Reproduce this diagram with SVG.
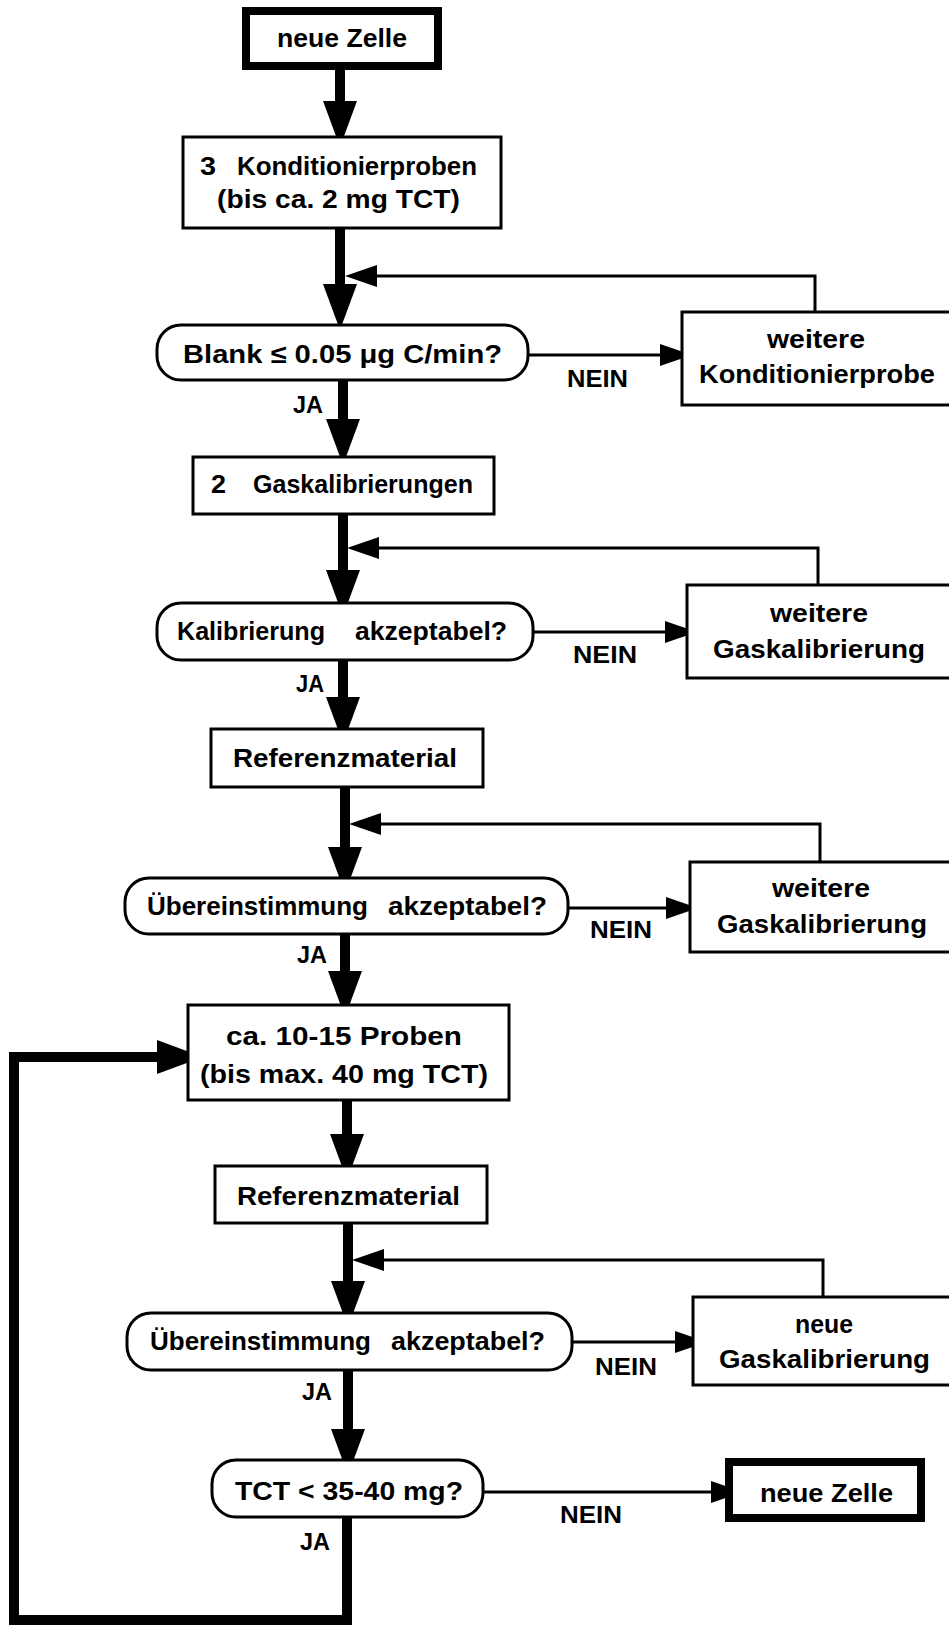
<svg xmlns="http://www.w3.org/2000/svg" width="949" height="1625" viewBox="0 0 949 1625">
<defs>
<style>
.box{fill:#fff;stroke:#000;stroke-width:3}
.term{fill:#fff;stroke:#000;stroke-width:8}
.t{font-family:"Liberation Sans",Arial,sans-serif;font-size:26px;font-weight:bold;fill:#000}
.lbl{font-family:"Liberation Sans",Arial,sans-serif;font-size:24px;font-weight:bold;fill:#000}
.main{fill:none;stroke:#000;stroke-width:10}
.thin{fill:none;stroke:#000;stroke-width:3}
</style>
<marker id="big" viewBox="0 0 46 34" refX="0" refY="17" markerWidth="46" markerHeight="34" markerUnits="userSpaceOnUse" orient="auto">
<path d="M0,0 L46,17 L0,34 Z" fill="#000"/>
</marker>
<marker id="small" viewBox="0 0 32 22" refX="0" refY="11" markerWidth="32" markerHeight="22" markerUnits="userSpaceOnUse" orient="auto">
<path d="M0,0 L32,11 L0,22 Z" fill="#000"/>
</marker>
</defs>
<rect width="949" height="1625" fill="#fff"/>

<g id="connectors">
<line class="main" x1="340" y1="70" x2="340" y2="101" marker-end="url(#big)"/>
<line class="main" x1="340" y1="228" x2="340" y2="284" marker-end="url(#big)"/>
<line class="main" x1="343" y1="380" x2="343" y2="419" marker-end="url(#big)"/>
<line class="main" x1="343" y1="514" x2="343" y2="570" marker-end="url(#big)"/>
<line class="main" x1="343" y1="660" x2="343" y2="697" marker-end="url(#big)"/>
<line class="main" x1="345" y1="787" x2="345" y2="847" marker-end="url(#big)"/>
<line class="main" x1="345" y1="934" x2="345" y2="971" marker-end="url(#big)"/>
<line class="main" x1="347" y1="1100" x2="347" y2="1134" marker-end="url(#big)"/>
<line class="main" x1="348" y1="1223" x2="348" y2="1281" marker-end="url(#big)"/>
<line class="main" x1="348" y1="1370" x2="348" y2="1429" marker-end="url(#big)"/>
<polyline class="main" points="347,1517 347,1620 14,1620 14,1057 157,1057" marker-end="url(#big)"/>

<polyline class="thin" points="815,312 815,276 377,276" marker-end="url(#small)"/>
<polyline class="thin" points="818,585 818,548 379,548" marker-end="url(#small)"/>
<polyline class="thin" points="820,862 820,824 381,824" marker-end="url(#small)"/>
<polyline class="thin" points="823,1297 823,1260 384,1260" marker-end="url(#small)"/>

<line class="thin" x1="528" y1="355" x2="660" y2="355" marker-end="url(#small)"/>
<line class="thin" x1="533" y1="632" x2="665" y2="632" marker-end="url(#small)"/>
<line class="thin" x1="568" y1="908" x2="666" y2="908" marker-end="url(#small)"/>
<line class="thin" x1="572" y1="1342" x2="675" y2="1342" marker-end="url(#small)"/>
<line class="thin" x1="483" y1="1492" x2="711" y2="1492" marker-end="url(#small)"/>

<text class="lbl" x="293" y="413" textLength="30" lengthAdjust="spacingAndGlyphs">JA</text>
<text class="lbl" x="567" y="387" textLength="61" lengthAdjust="spacingAndGlyphs">NEIN</text>
<text class="lbl" x="296" y="692" textLength="28" lengthAdjust="spacingAndGlyphs">JA</text>
<text class="lbl" x="573" y="663" textLength="64" lengthAdjust="spacingAndGlyphs">NEIN</text>
<text class="lbl" x="297" y="963" textLength="30" lengthAdjust="spacingAndGlyphs">JA</text>
<text class="lbl" x="590" y="938" textLength="62" lengthAdjust="spacingAndGlyphs">NEIN</text>
<text class="lbl" x="302" y="1400" textLength="30" lengthAdjust="spacingAndGlyphs">JA</text>
<text class="lbl" x="595" y="1375" textLength="62" lengthAdjust="spacingAndGlyphs">NEIN</text>
<text class="lbl" x="560" y="1523" textLength="62" lengthAdjust="spacingAndGlyphs">NEIN</text>
<text class="lbl" x="300" y="1550" textLength="30" lengthAdjust="spacingAndGlyphs">JA</text>
</g>

<g id="start">
<rect class="term" x="246" y="11" width="192" height="55"/>
<text class="t" x="277" y="47" textLength="130" lengthAdjust="spacingAndGlyphs" style="font-size:25px">neue Zelle</text>
</g>

<g id="konditionierproben">
<rect class="box" x="183" y="137" width="318" height="91"/>
<text class="t" x="200" y="175" textLength="16" lengthAdjust="spacingAndGlyphs">3</text>
<text class="t" x="237" y="175" textLength="240" lengthAdjust="spacingAndGlyphs">Konditionierproben</text>
<text class="t" x="217" y="208" textLength="243" lengthAdjust="spacingAndGlyphs">(bis ca. 2 mg TCT)</text>
</g>

<g id="blank">
<rect class="box" x="157" y="325" width="371" height="55" rx="24"/>
<text class="t" x="183" y="363" textLength="319" lengthAdjust="spacingAndGlyphs">Blank ≤ 0.05 μg C/min?</text>
</g>

<g id="weitere-konditionierprobe">
<rect class="box" x="682" y="312" width="300" height="93"/>
<text class="t" x="767" y="348" textLength="98" lengthAdjust="spacingAndGlyphs">weitere</text>
<text class="t" x="699" y="383" textLength="236" lengthAdjust="spacingAndGlyphs">Konditionierprobe</text>
</g>

<g id="gaskalibrierungen">
<rect class="box" x="193" y="457" width="301" height="57"/>
<text class="t" x="211" y="493" textLength="15" lengthAdjust="spacingAndGlyphs">2</text>
<text class="t" x="253" y="493" textLength="220" lengthAdjust="spacingAndGlyphs">Gaskalibrierungen</text>
</g>

<g id="kalibrierung-akzeptabel">
<rect class="box" x="157" y="603" width="376" height="57" rx="24"/>
<text class="t" x="177" y="640" textLength="148" lengthAdjust="spacingAndGlyphs">Kalibrierung</text>
<text class="t" x="355" y="640" textLength="152" lengthAdjust="spacingAndGlyphs">akzeptabel?</text>
</g>

<g id="weitere-gaskalibrierung-1">
<rect class="box" x="687" y="585" width="300" height="93"/>
<text class="t" x="770" y="622" textLength="98" lengthAdjust="spacingAndGlyphs">weitere</text>
<text class="t" x="713" y="658" textLength="212" lengthAdjust="spacingAndGlyphs">Gaskalibrierung</text>
</g>

<g id="referenzmaterial-1">
<rect class="box" x="211" y="729" width="272" height="58"/>
<text class="t" x="233" y="767" textLength="224" lengthAdjust="spacingAndGlyphs">Referenzmaterial</text>
</g>

<g id="uebereinstimmung-1">
<rect class="box" x="125" y="878" width="443" height="56" rx="24"/>
<text class="t" x="147" y="915" textLength="221" lengthAdjust="spacingAndGlyphs">Übereinstimmung</text>
<text class="t" x="388" y="915" textLength="159" lengthAdjust="spacingAndGlyphs">akzeptabel?</text>
</g>

<g id="weitere-gaskalibrierung-2">
<rect class="box" x="690" y="862" width="300" height="90"/>
<text class="t" x="772" y="897" textLength="98" lengthAdjust="spacingAndGlyphs">weitere</text>
<text class="t" x="717" y="933" textLength="210" lengthAdjust="spacingAndGlyphs">Gaskalibrierung</text>
</g>

<g id="proben">
<rect class="box" x="188" y="1005" width="321" height="95"/>
<text class="t" x="226" y="1045" textLength="236" lengthAdjust="spacingAndGlyphs">ca. 10-15 Proben</text>
<text class="t" x="200" y="1083" textLength="288" lengthAdjust="spacingAndGlyphs">(bis max. 40 mg TCT)</text>
</g>

<g id="referenzmaterial-2">
<rect class="box" x="215" y="1166" width="272" height="57"/>
<text class="t" x="237" y="1205" textLength="223" lengthAdjust="spacingAndGlyphs">Referenzmaterial</text>
</g>

<g id="uebereinstimmung-2">
<rect class="box" x="127" y="1313" width="445" height="57" rx="24"/>
<text class="t" x="150" y="1350" textLength="221" lengthAdjust="spacingAndGlyphs">Übereinstimmung</text>
<text class="t" x="391" y="1350" textLength="154" lengthAdjust="spacingAndGlyphs">akzeptabel?</text>
</g>

<g id="neue-gaskalibrierung">
<rect class="box" x="693" y="1297" width="300" height="88"/>
<text class="t" x="795" y="1333" textLength="58" lengthAdjust="spacingAndGlyphs">neue</text>
<text class="t" x="719" y="1368" textLength="211" lengthAdjust="spacingAndGlyphs">Gaskalibrierung</text>
</g>

<g id="tct">
<rect class="box" x="212" y="1460" width="271" height="57" rx="24"/>
<text class="t" x="235" y="1500" textLength="228" lengthAdjust="spacingAndGlyphs">TCT &lt; 35-40 mg?</text>
</g>

<g id="end">
<rect class="term" x="729" y="1462" width="192" height="56"/>
<text class="t" x="760" y="1502" textLength="133" lengthAdjust="spacingAndGlyphs" style="font-size:25px">neue Zelle</text>
</g>
</svg>
